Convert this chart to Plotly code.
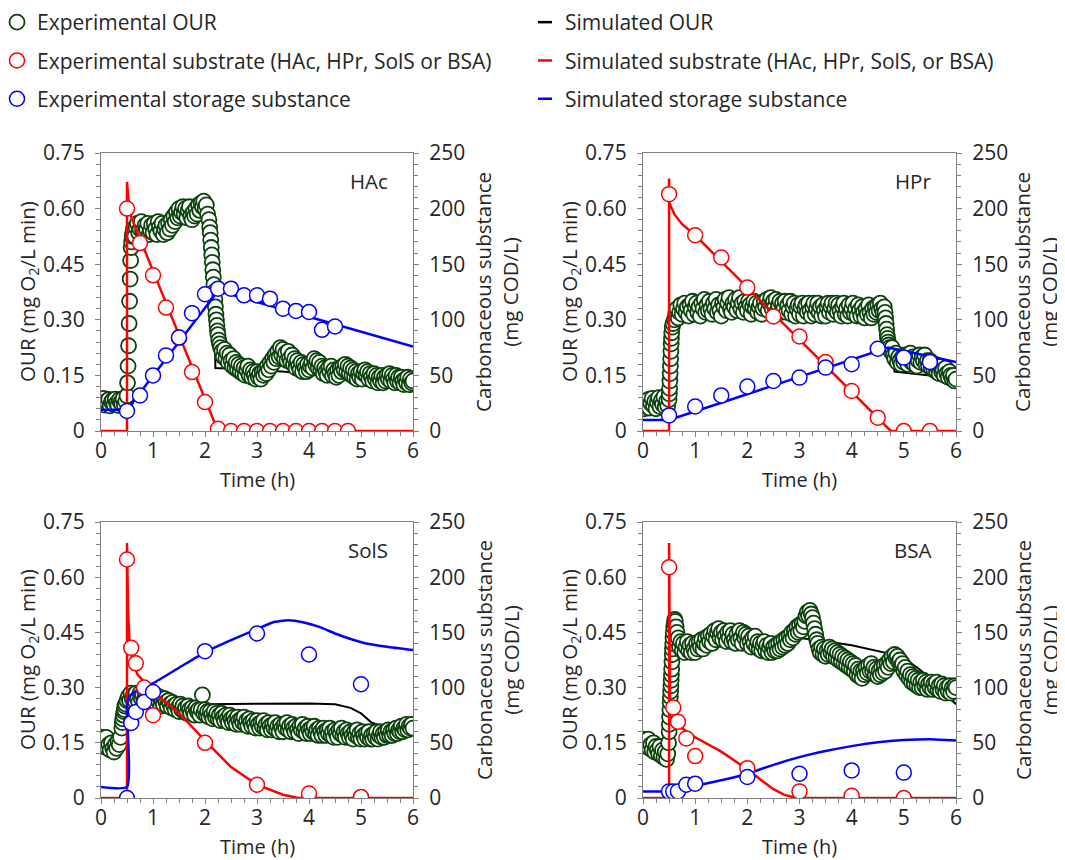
import plotly.graph_objects as go

# ---------------- DATA ----------------
panel_names = ["HAc", "HPr", "SolS", "BSA"]

# Experimental OUR (time h, mg O2/L min)
hac_our = [
    (0.000,0.082),(0.025,0.074),(0.050,0.088),(0.075,0.070),(0.100,0.080),(0.125,0.076),(0.150,0.085),(0.175,0.068),(0.200,0.079),(0.225,0.083),
    (0.250,0.071),(0.275,0.086),(0.300,0.075),(0.325,0.069),(0.350,0.084),(0.375,0.077),(0.400,0.072),(0.425,0.087),(0.450,0.070),(0.475,0.080),
    (0.50,0.095),(0.51,0.130),(0.52,0.175),(0.53,0.230),(0.54,0.290),(0.55,0.350),(0.56,0.410),(0.57,0.460),(0.58,0.495),(0.59,0.510),(0.60,0.525),
    (0.61,0.535),(0.625,0.545),(0.650,0.525),(0.675,0.550),(0.700,0.560),(0.725,0.535),(0.750,0.545),(0.775,0.565),(0.800,0.540),(0.825,0.530),
    (0.850,0.555),(0.875,0.545),(0.900,0.560),(0.925,0.530),(0.950,0.540),(0.975,0.555),(1.000,0.535),(1.025,0.560),(1.050,0.545),(1.075,0.530),
    (1.100,0.565),(1.125,0.550),(1.150,0.540),(1.175,0.560),(1.200,0.530),(1.225,0.545),(1.250,0.555),(1.275,0.535),(1.300,0.560),(1.325,0.545),
    (1.350,0.570),(1.375,0.555),(1.400,0.580),(1.425,0.565),(1.450,0.590),(1.475,0.575),(1.500,0.600),(1.525,0.580),(1.550,0.590),(1.575,0.605),
    (1.600,0.585),(1.625,0.600),(1.650,0.575),(1.675,0.595),(1.700,0.605),(1.725,0.580),(1.750,0.570),(1.775,0.590),(1.800,0.580),(1.825,0.600),
    (1.850,0.585),(1.875,0.610),(1.900,0.595),(1.925,0.615),(1.950,0.605),(1.975,0.620),(2.000,0.600),(2.025,0.610),(2.050,0.585),(2.075,0.570),
    (2.09,0.550),(2.10,0.535),(2.11,0.515),(2.12,0.495),(2.13,0.475),(2.14,0.455),(2.15,0.435),(2.16,0.415),(2.17,0.395),(2.18,0.375),(2.19,0.355),
    (2.20,0.335),(2.21,0.315),(2.22,0.300),(2.23,0.285),(2.24,0.270),(2.25,0.260),(2.265,0.245),(2.28,0.235),(2.30,0.225),(2.325,0.215),
    (2.350,0.200),(2.375,0.220),(2.400,0.195),(2.425,0.210),(2.450,0.185),(2.475,0.205),(2.500,0.190),(2.525,0.175),(2.550,0.195),(2.575,0.170),
    (2.600,0.185),(2.625,0.165),(2.650,0.180),(2.675,0.160),(2.700,0.175),(2.725,0.155),(2.750,0.170),(2.775,0.150),(2.800,0.165),(2.825,0.175),
    (2.850,0.150),(2.875,0.165),(2.900,0.145),(2.925,0.160),(2.950,0.150),(2.975,0.140),(3.000,0.160),(3.025,0.145),(3.050,0.155),(3.075,0.140),
    (3.100,0.160),(3.125,0.150),(3.150,0.165),(3.175,0.155),(3.200,0.175),(3.225,0.165),(3.250,0.185),(3.275,0.175),(3.300,0.195),(3.325,0.185),
    (3.350,0.205),(3.375,0.195),(3.400,0.215),(3.425,0.200),(3.450,0.225),(3.475,0.205),(3.500,0.220),(3.525,0.195),(3.550,0.210),(3.575,0.190),
    (3.600,0.215),(3.625,0.195),(3.650,0.185),(3.675,0.205),(3.700,0.180),(3.725,0.195),(3.750,0.170),(3.775,0.190),(3.800,0.175),(3.825,0.165),
    (3.850,0.185),(3.875,0.160),(3.900,0.180),(3.925,0.170),(3.950,0.160),(3.975,0.180),(4.000,0.165),(4.025,0.175),(4.050,0.185),(4.075,0.170),
    (4.100,0.195),(4.125,0.180),(4.150,0.190),(4.175,0.170),(4.200,0.185),(4.225,0.165),(4.250,0.175),(4.275,0.155),(4.300,0.170),(4.325,0.160),
    (4.350,0.150),(4.375,0.170),(4.400,0.160),(4.425,0.175),(4.450,0.150),(4.475,0.165),(4.500,0.155),(4.525,0.145),(4.550,0.165),(4.575,0.150),
    (4.600,0.170),(4.625,0.160),(4.650,0.175),(4.675,0.165),(4.700,0.180),(4.725,0.160),(4.750,0.175),(4.775,0.155),(4.800,0.170),(4.825,0.150),
    (4.850,0.165),(4.875,0.145),(4.900,0.160),(4.925,0.140),(4.950,0.155),(4.975,0.145),(5.000,0.160),(5.025,0.140),(5.050,0.155),(5.075,0.165),
    (5.100,0.150),(5.125,0.160),(5.150,0.140),(5.175,0.155),(5.200,0.145),(5.225,0.135),(5.250,0.155),(5.275,0.140),(5.300,0.150),(5.325,0.130),
    (5.350,0.145),(5.375,0.135),(5.400,0.150),(5.425,0.130),(5.450,0.145),(5.475,0.135),(5.500,0.150),(5.525,0.140),(5.550,0.155),(5.575,0.135),
    (5.600,0.150),(5.625,0.140),(5.650,0.130),(5.675,0.150),(5.700,0.135),(5.725,0.145),(5.750,0.130),(5.775,0.145),(5.800,0.135),(5.825,0.125),
    (5.850,0.140),(5.875,0.130),(5.900,0.145),(5.925,0.125),(5.950,0.140),(5.975,0.130),(6.000,0.135)]

hpr_our = [
    (0.000,0.070),(0.025,0.060),(0.050,0.078),(0.075,0.065),(0.100,0.085),(0.125,0.062),(0.150,0.075),(0.175,0.088),(0.200,0.068),(0.225,0.080),
    (0.250,0.060),(0.275,0.078),(0.300,0.090),(0.325,0.066),(0.350,0.082),(0.375,0.072),(0.400,0.092),(0.425,0.065),(0.450,0.080),(0.475,0.068),
    (0.50,0.085),(0.505,0.100),(0.51,0.115),(0.515,0.135),(0.52,0.155),(0.525,0.175),(0.53,0.195),(0.535,0.215),(0.54,0.235),(0.545,0.250),
    (0.55,0.265),(0.56,0.280),(0.575,0.290),(0.60,0.300),(0.625,0.315),
    (0.650,0.330),(0.675,0.305),(0.700,0.320),(0.725,0.340),(0.750,0.315),(0.775,0.330),(0.800,0.345),(0.825,0.320),(0.850,0.335),(0.875,0.310),
    (0.900,0.340),(0.925,0.325),(0.950,0.350),(0.975,0.315),(1.000,0.335),(1.025,0.345),(1.050,0.320),(1.075,0.335),(1.100,0.310),(1.125,0.345),
    (1.150,0.330),(1.175,0.355),(1.200,0.320),(1.225,0.340),(1.250,0.325),(1.275,0.350),(1.300,0.330),(1.325,0.315),(1.350,0.345),(1.375,0.330),
    (1.400,0.355),(1.425,0.320),(1.450,0.340),(1.475,0.325),(1.500,0.310),(1.525,0.345),(1.550,0.335),(1.575,0.355),(1.600,0.325),(1.625,0.345),
    (1.650,0.360),(1.675,0.330),(1.700,0.320),(1.725,0.345),(1.750,0.335),(1.775,0.355),(1.800,0.325),(1.825,0.345),(1.850,0.360),(1.875,0.330),
    (1.900,0.345),(1.925,0.320),(1.950,0.350),(1.975,0.335),(2.000,0.325),(2.025,0.350),(2.050,0.340),(2.075,0.315),(2.100,0.335),(2.125,0.350),
    (2.150,0.330),(2.175,0.345),(2.200,0.320),(2.225,0.335),(2.250,0.345),(2.275,0.315),(2.300,0.330),(2.325,0.350),(2.350,0.335),(2.375,0.355),
    (2.400,0.325),(2.425,0.345),(2.450,0.360),(2.475,0.330),(2.500,0.350),(2.525,0.335),(2.550,0.355),(2.575,0.325),(2.600,0.340),(2.625,0.350),
    (2.650,0.320),(2.675,0.345),(2.700,0.330),(2.725,0.350),(2.750,0.320),(2.775,0.340),(2.800,0.325),(2.825,0.350),(2.850,0.315),(2.875,0.335),
    (2.900,0.345),(2.925,0.310),(2.950,0.330),(2.975,0.340),(3.000,0.315),(3.025,0.335),(3.050,0.345),(3.075,0.310),(3.100,0.330),(3.125,0.340),
    (3.150,0.320),(3.175,0.345),(3.200,0.325),(3.225,0.310),(3.250,0.335),(3.275,0.345),(3.300,0.315),(3.325,0.330),(3.350,0.345),(3.375,0.320),
    (3.400,0.335),(3.425,0.310),(3.450,0.340),(3.475,0.325),(3.500,0.310),(3.525,0.335),(3.550,0.345),(3.575,0.320),(3.600,0.335),(3.625,0.345),
    (3.650,0.315),(3.675,0.330),(3.700,0.345),(3.725,0.320),(3.750,0.340),(3.775,0.325),(3.800,0.310),(3.825,0.335),(3.850,0.345),(3.875,0.315),
    (3.900,0.330),(3.925,0.310),(3.950,0.340),(3.975,0.320),(4.000,0.330),(4.025,0.345),(4.050,0.315),(4.075,0.330),(4.100,0.310),(4.125,0.340),
    (4.150,0.325),(4.175,0.310),(4.200,0.335),(4.225,0.320),(4.250,0.305),(4.275,0.330),(4.300,0.315),(4.325,0.340),(4.350,0.320),(4.375,0.305),
    (4.400,0.330),(4.425,0.315),(4.450,0.335),(4.475,0.320),(4.500,0.340),(4.525,0.325),(4.550,0.345),(4.575,0.330),(4.600,0.320),(4.625,0.335),
    (4.64,0.320),(4.65,0.305),(4.66,0.290),(4.67,0.275),(4.68,0.260),(4.69,0.250),(4.70,0.240),(4.71,0.232),(4.725,0.225),(4.75,0.215),
    (4.775,0.225),(4.800,0.205),(4.825,0.195),(4.850,0.210),(4.875,0.185),(4.900,0.200),(4.925,0.190),(4.950,0.180),(4.975,0.200),(5.000,0.185),
    (5.025,0.205),(5.050,0.190),(5.075,0.180),(5.100,0.200),(5.125,0.210),(5.150,0.185),(5.175,0.200),(5.200,0.180),(5.225,0.195),(5.250,0.175),
    (5.275,0.190),(5.300,0.205),(5.325,0.185),(5.350,0.200),(5.375,0.190),(5.400,0.205),(5.425,0.180),(5.450,0.190),(5.475,0.175),(5.500,0.190),
    (5.525,0.170),(5.550,0.180),(5.575,0.165),(5.600,0.180),(5.625,0.160),(5.650,0.170),(5.675,0.155),(5.700,0.175),(5.725,0.160),(5.750,0.165),
    (5.775,0.150),(5.800,0.170),(5.825,0.155),(5.850,0.145),(5.875,0.160),(5.900,0.150),(5.925,0.140),(5.950,0.150),(5.975,0.135),(6.000,0.140)]

sols_our = [
    (0.000,0.150),(0.025,0.165),(0.050,0.140),(0.075,0.155),(0.100,0.165),(0.125,0.135),(0.150,0.145),(0.175,0.130),(0.200,0.150),(0.225,0.135),
    (0.250,0.125),(0.275,0.145),(0.300,0.135),(0.325,0.155),(0.350,0.145),(0.375,0.165),(0.40,0.190),(0.41,0.205),(0.42,0.215),(0.43,0.225),
    (0.44,0.235),(0.45,0.240),(0.46,0.250),(0.475,0.255),(0.500,0.265),
    (0.525,0.275),(0.550,0.265),(0.575,0.285),(0.600,0.270),(0.625,0.280),(0.650,0.265),(0.675,0.285),(0.700,0.270),(0.725,0.260),(0.750,0.285),
    (0.775,0.270),(0.800,0.280),(0.825,0.265),(0.850,0.285),(0.875,0.270),(0.900,0.260),(0.925,0.280),(0.950,0.265),(0.975,0.275),(1.000,0.260),
    (1.025,0.270),(1.050,0.280),(1.075,0.255),(1.100,0.265),(1.125,0.275),(1.150,0.250),(1.175,0.265),(1.200,0.255),(1.225,0.270),(1.250,0.260),
    (1.275,0.250),(1.300,0.265),(1.325,0.255),(1.350,0.245),(1.375,0.260),(1.400,0.250),(1.425,0.240),(1.450,0.255),(1.475,0.245),(1.500,0.235),
    (1.525,0.255),(1.550,0.240),(1.575,0.250),(1.600,0.235),(1.625,0.245),(1.650,0.230),(1.675,0.250),(1.700,0.240),(1.725,0.230),(1.750,0.245),
    (1.775,0.235),(1.800,0.225),(1.825,0.245),(1.850,0.235),(1.875,0.240),(1.900,0.225),(1.925,0.240),(1.950,0.280),(1.975,0.230),(2.000,0.240),
    (2.025,0.225),(2.050,0.235),(2.075,0.220),(2.100,0.235),(2.125,0.225),(2.150,0.215),(2.175,0.235),(2.200,0.220),(2.225,0.230),(2.250,0.215),
    (2.275,0.225),(2.300,0.210),(2.325,0.230),(2.350,0.220),(2.375,0.210),(2.400,0.225),(2.425,0.215),(2.450,0.205),(2.475,0.225),(2.500,0.215),
    (2.525,0.205),(2.550,0.220),(2.575,0.210),(2.600,0.200),(2.625,0.220),(2.650,0.210),(2.675,0.200),(2.700,0.215),(2.725,0.205),(2.750,0.220),
    (2.775,0.200),(2.800,0.210),(2.825,0.195),(2.850,0.215),(2.875,0.205),(2.900,0.195),(2.925,0.210),(2.950,0.200),(2.975,0.190),(3.000,0.210),
    (3.025,0.200),(3.050,0.190),(3.075,0.205),(3.100,0.195),(3.125,0.210),(3.150,0.190),(3.175,0.200),(3.200,0.185),(3.225,0.205),(3.250,0.195),
    (3.275,0.185),(3.300,0.200),(3.325,0.190),(3.350,0.205),(3.375,0.185),(3.400,0.195),(3.425,0.180),(3.450,0.200),(3.475,0.190),(3.500,0.180),
    (3.525,0.200),(3.550,0.190),(3.575,0.205),(3.600,0.185),(3.625,0.195),(3.650,0.180),(3.675,0.200),(3.700,0.190),(3.725,0.180),(3.750,0.195),
    (3.775,0.185),(3.800,0.175),(3.825,0.195),(3.850,0.185),(3.875,0.200),(3.900,0.180),(3.925,0.190),(3.950,0.175),(3.975,0.195),(4.000,0.185),
    (4.025,0.175),(4.050,0.190),(4.075,0.180),(4.100,0.195),(4.125,0.175),(4.150,0.185),(4.175,0.170),(4.200,0.190),(4.225,0.180),(4.250,0.170),
    (4.275,0.190),(4.300,0.180),(4.325,0.170),(4.350,0.185),(4.375,0.175),(4.400,0.190),(4.425,0.170),(4.450,0.180),(4.475,0.165),(4.500,0.185),
    (4.525,0.175),(4.550,0.165),(4.575,0.185),(4.600,0.175),(4.625,0.190),(4.650,0.170),(4.675,0.180),(4.700,0.165),(4.725,0.185),(4.750,0.175),
    (4.775,0.165),(4.800,0.180),(4.825,0.170),(4.850,0.160),(4.875,0.180),(4.900,0.170),(4.925,0.185),(4.950,0.165),(4.975,0.175),(5.000,0.160),
    (5.025,0.180),(5.050,0.170),(5.075,0.160),(5.100,0.175),(5.125,0.165),(5.150,0.180),(5.175,0.160),(5.200,0.170),(5.225,0.160),(5.250,0.175),
    (5.275,0.165),(5.300,0.180),(5.325,0.160),(5.350,0.170),(5.375,0.180),(5.400,0.165),(5.425,0.175),(5.450,0.165),(5.475,0.180),(5.500,0.170),
    (5.525,0.185),(5.550,0.170),(5.575,0.180),(5.600,0.170),(5.625,0.185),(5.650,0.175),(5.675,0.190),(5.700,0.175),(5.725,0.185),(5.750,0.180),
    (5.775,0.195),(5.800,0.180),(5.825,0.190),(5.850,0.185),(5.875,0.200),(5.900,0.185),(5.925,0.195),(5.950,0.190),(5.975,0.200),(6.000,0.190)]

bsa_our = [
    (0.000,0.160),(0.025,0.145),(0.050,0.155),(0.075,0.140),(0.100,0.160),(0.125,0.135),(0.150,0.145),(0.175,0.130),(0.200,0.150),(0.225,0.125),
    (0.250,0.140),(0.275,0.130),(0.300,0.120),(0.325,0.140),(0.350,0.115),(0.375,0.130),(0.400,0.110),(0.425,0.125),(0.450,0.105),(0.475,0.120),
    (0.49,0.150),(0.50,0.180),(0.505,0.200),(0.51,0.220),(0.515,0.240),(0.52,0.260),(0.525,0.275),(0.53,0.290),(0.535,0.305),(0.54,0.320),
    (0.545,0.335),(0.55,0.350),(0.555,0.370),(0.56,0.390),(0.565,0.405),(0.57,0.420),(0.575,0.435),(0.58,0.450),(0.59,0.465),(0.60,0.475),
    (0.61,0.485),(0.62,0.480),(0.635,0.465),(0.650,0.450),(0.675,0.435),(0.700,0.410),(0.725,0.425),(0.750,0.400),(0.775,0.420),(0.800,0.395),
    (0.825,0.410),(0.850,0.425),(0.875,0.400),(0.900,0.415),(0.925,0.395),(0.950,0.420),(0.975,0.405),(1.000,0.395),(1.025,0.420),(1.050,0.405),
    (1.075,0.425),(1.100,0.410),(1.125,0.430),(1.150,0.405),(1.175,0.420),(1.200,0.435),(1.225,0.415),(1.250,0.440),(1.275,0.425),(1.300,0.445),
    (1.325,0.420),(1.350,0.440),(1.375,0.455),(1.400,0.430),(1.425,0.450),(1.450,0.460),(1.475,0.435),(1.500,0.450),(1.525,0.430),(1.550,0.455),
    (1.575,0.440),(1.600,0.425),(1.625,0.450),(1.650,0.435),(1.675,0.455),(1.700,0.425),(1.725,0.445),(1.750,0.430),(1.775,0.420),(1.800,0.445),
    (1.825,0.430),(1.850,0.455),(1.875,0.435),(1.900,0.420),(1.925,0.450),(1.950,0.435),(1.975,0.445),(2.000,0.420),(2.025,0.440),(2.050,0.425),
    (2.075,0.410),(2.100,0.435),(2.125,0.420),(2.150,0.440),(2.175,0.410),(2.200,0.425),(2.225,0.405),(2.250,0.420),(2.275,0.400),(2.300,0.415),
    (2.325,0.425),(2.350,0.400),(2.375,0.415),(2.400,0.395),(2.425,0.410),(2.450,0.420),(2.475,0.395),(2.500,0.410),(2.525,0.400),(2.550,0.415),
    (2.575,0.400),(2.600,0.420),(2.625,0.405),(2.650,0.425),(2.675,0.410),(2.700,0.430),(2.725,0.415),(2.750,0.435),(2.775,0.420),(2.800,0.440),
    (2.825,0.430),(2.850,0.450),(2.875,0.435),(2.900,0.455),(2.925,0.445),(2.950,0.465),(2.975,0.450),(3.000,0.470),(3.025,0.455),(3.050,0.475),
    (3.075,0.465),(3.100,0.480),(3.125,0.495),(3.150,0.505),(3.175,0.495),(3.200,0.510),(3.225,0.500),(3.250,0.490),
    (3.27,0.475),(3.29,0.460),(3.31,0.445),(3.33,0.430),(3.35,0.420),(3.375,0.405),(3.400,0.395),(3.425,0.410),(3.450,0.390),(3.475,0.405),
    (3.500,0.385),(3.525,0.400),(3.550,0.390),(3.575,0.410),(3.600,0.395),(3.625,0.405),(3.650,0.385),(3.675,0.400),(3.700,0.380),(3.725,0.395),
    (3.750,0.375),(3.775,0.390),(3.800,0.370),(3.825,0.385),(3.850,0.365),(3.875,0.380),(3.900,0.360),(3.925,0.375),(3.950,0.355),(3.975,0.370),
    (4.000,0.350),(4.025,0.365),(4.050,0.345),(4.075,0.360),(4.100,0.335),(4.125,0.350),(4.150,0.330),(4.175,0.345),(4.200,0.325),(4.225,0.345),
    (4.250,0.335),(4.275,0.355),(4.300,0.340),(4.325,0.360),(4.350,0.345),(4.375,0.365),(4.400,0.345),(4.425,0.355),(4.450,0.335),(4.475,0.350),
    (4.500,0.330),(4.525,0.345),(4.550,0.335),(4.575,0.355),(4.600,0.340),(4.625,0.360),(4.650,0.345),(4.675,0.365),(4.700,0.355),(4.725,0.375),
    (4.750,0.365),(4.775,0.385),(4.800,0.370),(4.825,0.390),(4.850,0.380),(4.875,0.385),(4.900,0.370),(4.925,0.375),(4.950,0.360),(4.975,0.365),
    (5.000,0.345),(5.025,0.355),(5.050,0.335),(5.075,0.345),(5.100,0.325),(5.125,0.335),(5.150,0.315),(5.175,0.330),(5.200,0.310),(5.225,0.325),
    (5.250,0.305),(5.275,0.320),(5.300,0.300),(5.325,0.315),(5.350,0.300),(5.375,0.320),(5.400,0.305),(5.425,0.315),(5.450,0.295),(5.475,0.310),
    (5.500,0.300),(5.525,0.315),(5.550,0.295),(5.575,0.310),(5.600,0.300),(5.625,0.315),(5.650,0.295),(5.675,0.305),(5.700,0.290),(5.725,0.310),
    (5.750,0.295),(5.775,0.305),(5.800,0.285),(5.825,0.300),(5.850,0.290),(5.875,0.305),(5.900,0.285),(5.925,0.300),(5.950,0.290),(5.975,0.305),
    (6.000,0.300)]

# Simulated OUR
hac_sim_our = [(0,0.065),(0.5,0.065),(0.5,0.54),(1.0,0.55),(1.4,0.57),(2.0,0.59),(2.15,0.595),(2.2,0.17),(3.0,0.165),(4.0,0.155),(5.0,0.145),(6.0,0.135)]
hpr_sim_our = [(0,0.06),(0.5,0.06),(0.5,0.335),(4.68,0.33),(4.82,0.16),(5.5,0.15),(6.0,0.14)]
sols_sim_our = [(0,0.15),(0.5,0.15),(0.55,0.27),(0.8,0.28),(1.0,0.27),(1.5,0.258),(2.0,0.255),(2.5,0.256),(3.0,0.257),(3.5,0.257),(4.0,0.257),
                (4.5,0.255),(4.8,0.245),(5.0,0.23),(5.2,0.205),(5.5,0.19),(6.0,0.185)]
bsa_sim_our = [(0,0.145),(0.25,0.14),(0.5,0.13),(0.5,0.34),(0.55,0.40),(0.7,0.42),(1.0,0.42),(1.5,0.43),(2.0,0.43),(2.5,0.43),(3.0,0.435),
               (3.3,0.43),(4.0,0.415),(4.7,0.393),(5.0,0.38),(5.3,0.35),(5.6,0.31),(6.0,0.255)]

# Experimental substrate (mg COD/L)
hac_sub = [(0.5,200),(0.75,169),(1.0,140),(1.25,111),(1.5,84),(1.75,53),(2.0,26),(2.25,2),(2.5,0),(2.75,0),(3.0,0),(3.25,0),(3.5,0),(3.75,0),(4.0,0),(4.25,0),(4.5,0),(4.75,0)]
hpr_sub = [(0.5,213),(1.0,176),(1.5,156),(2.0,129),(2.5,103),(3.0,85),(3.5,62),(4.0,36),(4.5,12),(5.0,0),(5.5,0)]
sols_sub = [(0.5,216),(0.58,136),(0.67,122),(0.83,100),(1.0,75),(2.0,50),(3.0,12),(4.0,4),(5.0,1)]
bsa_sub = [(0.5,209),(0.58,82),(0.67,69),(0.83,54),(1.0,38),(2.0,27),(3.0,6),(4.0,2),(5.0,0)]

# Simulated substrate
hac_sim_sub = [(0,0),(0.5,0),(0.5,224),(0.55,196),(1.0,144),(1.5,86),(2.0,29),(2.25,0),(6.0,0)]
hpr_sim_sub = [(0,0),(0.5,0),(0.5,227),(0.5,206),(0.6,195),(0.75,186),(1.0,176),(4.75,0),(6.0,0)]
sols_sim_sub = [(0,0),(0.5,0),(0.5,231),(0.52,170),(0.55,140),(0.6,125),(0.7,112),(0.85,104),(1.0,96),(1.5,77),(2.0,52),(2.5,28),(3.0,12),(3.5,3),(3.8,0),(6.0,0)]
bsa_sim_sub = [(0,0),(0.5,0),(0.5,231),(0.52,72),(0.6,68),(1.0,55),(1.5,42),(2.0,26),(2.3,15),(2.5,8),(2.7,3),(2.9,0.5),(3.0,0),(6.0,0)]

# Experimental storage substance
hac_sto = [(0.5,18),(0.75,32),(1.0,50),(1.25,68),(1.5,84),(1.75,106),(2.0,123),(2.25,128),(2.5,128),(2.75,122),(3.0,122),(3.25,119),(3.5,110),(3.75,108),(4.0,107),(4.25,91),(4.5,94)]
hpr_sto = [(0.5,14),(1.0,22),(1.5,32),(2.0,40),(2.5,45),(3.0,48),(3.5,57),(4.0,60),(4.5,74),(5.0,66),(5.5,62)]
sols_sto = [(0.5,0),(0.58,68),(0.67,78),(0.83,87),(1.0,96),(2.0,133),(3.0,149),(4.0,130),(5.0,103)]
bsa_sto = [(0.5,6),(0.58,6),(0.67,6),(0.83,12),(1.0,13),(2.0,19),(3.0,22),(4.0,25),(5.0,23)]

# Simulated storage substance
hac_sim_sto = [(0,19),(0.5,19),(2.25,126),(6.0,76)]
hpr_sim_sto = [(0,10),(0.5,10),(4.7,75),(6.0,62)]
sols_sim_sto = [(0,10),(0.5,10),(0.5,85),(0.55,92),(0.7,98),(1.0,104),(1.5,118),(2.0,132),(2.5,143),(3.0,153),(3.3,159),(3.6,161),(3.9,159),
                (4.2,155),(4.5,149),(4.8,144),(5.1,140),(5.5,137),(6.0,134)]
bsa_sim_sto = [(0,6),(0.5,6),(1.0,11),(1.5,16),(2.0,22),(2.5,30),(3.0,37),(3.5,42.5),(4.0,47),(4.5,50.5),(5.0,52.5),(5.5,53.3),(6.0,52)]

our_ticks = [0, 0.15, 0.30, 0.45, 0.60, 0.75]
our_ticktext = ["0", "0.15", "0.30", "0.45", "0.60", "0.75"]

# ---------------- STYLE / LAYOUT ----------------
# the page has an 8 px body margin at top/left; the figure is sized so it ends at the window edges
OFF = 8
W, H = 1065 - OFF, 860 - OFF
FONT = "Open Sans"
TXT = "#262626"
AX = "#808080"
GREEN = "#0c420c"
RED = "#ff0000"
BLUE = "#0000ff"

# plot boxes in window pixels: (left, right, top, bottom)
boxes_win = [(101, 413, 153, 431), (643, 956, 153, 431), (101, 413, 522, 798), (643, 956, 522, 798)]
boxes = [(l - OFF, r - OFF, t - OFF, b - OFF) for (l, r, t, b) in boxes_win]
right_title_gap = [84, 80, 84, 80]
smooth = [False, False, True, True]


def unz(pairs):
    return [p[0] for p in pairs], [p[1] for p in pairs]


panels = [
    (hac_our, hac_sim_our, hac_sub, hac_sim_sub, hac_sto, hac_sim_sto),
    (hpr_our, hpr_sim_our, hpr_sub, hpr_sim_sub, hpr_sto, hpr_sim_sto),
    (sols_our, sols_sim_our, sols_sub, sols_sim_sub, sols_sto, sols_sim_sto),
    (bsa_our, bsa_sim_our, bsa_sub, bsa_sim_sub, bsa_sto, bsa_sim_sto),
]

fig = go.Figure()


def open_circle(c, w=1.5):
    return dict(symbol="circle", size=15, color="white", line=dict(color=c, width=w))


for i, (our, sim_our, sub, sim_sub, sto, sim_sto) in enumerate(panels):
    xa = "x" if i == 0 else f"x{i+1}"
    yl = "y" if i == 0 else f"y{2*i+1}"
    yr = f"y{2*i+2}"
    first = (i == 0)
    shp = dict(shape="spline", smoothing=0.5) if smooth[i] else dict(shape="linear")
    t, v = unz(sim_our)
    fig.add_trace(go.Scatter(x=t, y=v, mode="lines", line=dict(color="black", width=2), xaxis=xa, yaxis=yl,
                             showlegend=False, hoverinfo="skip"))
    t, v = unz(our)
    fig.add_trace(go.Scatter(x=t, y=v, mode="markers", marker=open_circle(GREEN, 1.8), xaxis=xa, yaxis=yl,
                             name="Experimental OUR", showlegend=first, legend="legend", legendgroup="g1", legendrank=1))
    t, v = unz(sim_sub)
    fig.add_trace(go.Scatter(x=t, y=v, mode="lines", line=dict(color=RED, width=2.5), xaxis=xa, yaxis=yr,
                             showlegend=False))
    t, v = unz(sim_sto)
    fig.add_trace(go.Scatter(x=t, y=v, mode="lines", line=dict(color=BLUE, width=2.5, **shp), xaxis=xa, yaxis=yr,
                             showlegend=False))
    t, v = unz(sub)
    fig.add_trace(go.Scatter(x=t, y=v, mode="markers", marker=open_circle(RED), xaxis=xa, yaxis=yr,
                             name="Experimental substrate (HAc, HPr, SolS or BSA)", showlegend=first,
                             legend="legend", legendgroup="g2", legendrank=2))
    t, v = unz(sto)
    fig.add_trace(go.Scatter(x=t, y=v, mode="markers", marker=open_circle(BLUE), xaxis=xa, yaxis=yr,
                             name="Experimental storage substance", showlegend=first,
                             legend="legend", legendgroup="g3", legendrank=3))

# legend entries for simulated lines (short dash symbols)
for k, (nm, col) in enumerate([("Simulated OUR", "black"),
                               ("Simulated substrate (HAc, HPr, SolS, or BSA)", RED),
                               ("Simulated storage substance", BLUE)]):
    fig.add_trace(go.Scatter(x=[None], y=[None], mode="markers",
                             marker=dict(symbol="line-ew", size=10, line=dict(color=col, width=2.5)),
                             name=nm, legend="legend2", legendgroup=f"s{k}", legendrank=k + 1,
                             xaxis="x", yaxis="y"))

LEGFONT = dict(family=FONT, size=21, color=TXT)
layout = dict(
    width=W, height=H, margin=dict(l=0, r=0, t=0, b=0, autoexpand=False),
    paper_bgcolor="white", plot_bgcolor="white",
    font=dict(family=FONT, size=20, color=TXT),
    legend=dict(x=-11 / W, y=1 + 6 / H, xanchor="left", yanchor="top", orientation="v", traceorder="grouped",
                tracegroupgap=8, font=LEGFONT, bgcolor="rgba(0,0,0,0)", itemsizing="trace"),
    legend2=dict(x=517 / W, y=1 + 6 / H, xanchor="left", yanchor="top", orientation="v", traceorder="grouped",
                 tracegroupgap=8, font=LEGFONT, bgcolor="rgba(0,0,0,0)"),
    annotations=[],
)

tickfont = dict(family=FONT, size=21, color=TXT)
TITLEFONT = dict(family=FONT, size=20.5, color=TXT)
XTITLEFONT = dict(family=FONT, size=20, color=TXT)
for i, (l, r, tp, bt) in enumerate(boxes):
    xd = [l / W, r / W]
    yd = [1 - bt / H, 1 - tp / H]
    xname = "xaxis" if i == 0 else f"xaxis{i+1}"
    ylname = "yaxis" if i == 0 else f"yaxis{2*i+1}"
    yrname = f"yaxis{2*i+2}"
    xa = "x" if i == 0 else f"x{i+1}"
    yl = "y" if i == 0 else f"y{2*i+1}"
    layout[xname] = dict(domain=xd, anchor=yl, range=[0, 6], tickmode="linear", tick0=0, dtick=1,
                         ticks="outside", ticklen=5, tickwidth=1.2, tickcolor=AX, ticklabelstandoff=-4,
                         minor=dict(tick0=0, dtick=0.25, ticks="outside", ticklen=4, tickwidth=1.2, tickcolor=AX),
                         showline=True, linecolor=AX, linewidth=1.3, mirror=True,
                         showgrid=False, zeroline=False, automargin=False, tickfont=tickfont)
    layout[ylname] = dict(domain=yd, anchor=xa, range=[0, 0.75], tickmode="array", tickvals=our_ticks, ticktext=our_ticktext,
                          ticks="outside", ticklen=5, tickwidth=1.2, tickcolor=AX, ticklabelstandoff=6,
                          minor=dict(tick0=0, dtick=0.03, ticks="outside", ticklen=4, tickwidth=1.2, tickcolor=AX),
                          showline=True, linecolor=AX, linewidth=1.3,
                          showgrid=False, zeroline=False, automargin=False, tickfont=tickfont)
    layout[yrname] = dict(overlaying=yl, side="right", anchor=xa, range=[0, 250], tickmode="linear", tick0=0, dtick=50,
                          ticks="outside", ticklen=5, tickwidth=1.2, tickcolor=AX, ticklabelstandoff=6,
                          minor=dict(tick0=0, dtick=10, ticks="outside", ticklen=4, tickwidth=1.2, tickcolor=AX),
                          showline=True, linecolor=AX, linewidth=1.3,
                          showgrid=False, zeroline=False, automargin=False, tickfont=tickfont)
    cy = 1 - (tp + bt) / 2 / H
    layout["annotations"] += [
        dict(text="OUR (mg O<sub>2</sub>/L min)", x=(l - 73) / W, y=cy, xref="paper", yref="paper",
             showarrow=False, textangle=-90, xanchor="center", yanchor="middle", font=TITLEFONT),
        dict(text="Carbonaceous substance<br>(mg COD/L)", x=(r + right_title_gap[i]) / W, y=cy, xref="paper", yref="paper",
             showarrow=False, textangle=-90, xanchor="center", yanchor="middle", font=TITLEFONT),
        dict(text="Time (h)", x=(l + r) / 2 / W, y=1 - (bt + 48) / H, xref="paper", yref="paper",
             showarrow=False, xanchor="center", yanchor="middle", font=XTITLEFONT),
        dict(text=panel_names[i], x=(r - 23) / W, y=1 - (tp + 28) / H, xref="paper", yref="paper",
             showarrow=False, xanchor="right", yanchor="middle", font=TITLEFONT),
    ]

fig.update_layout(**layout)
fig.write_html("out.html")
